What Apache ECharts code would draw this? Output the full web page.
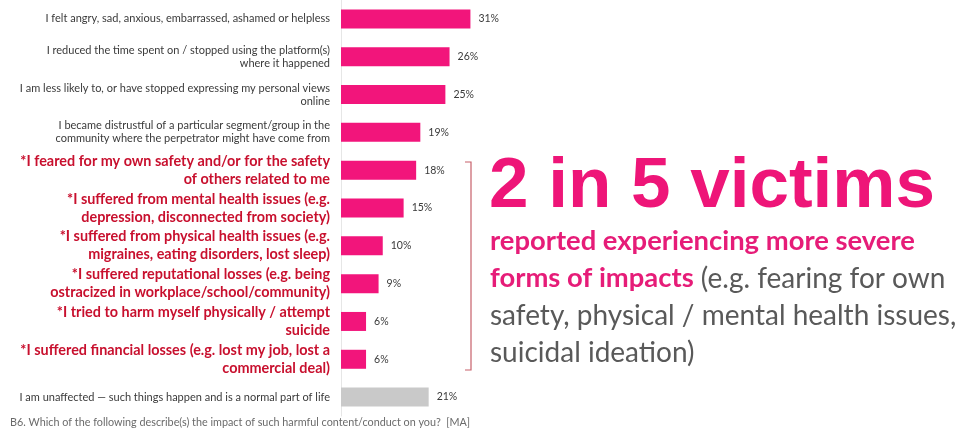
<!DOCTYPE html>
<html>
<head>
<meta charset="utf-8">
<script src="https://cdn.jsdelivr.net/npm/echarts@6/dist/echarts.min.js"></script>
<style>
  html, body { margin: 0; padding: 0; background: #fff; }
  #chart { width: 969px; height: 443px; }
</style>
</head>
<body>
<div id="chart"></div>
<script>
// Impact statements, top to bottom
const categories = [
  'I felt angry, sad, anxious, embarrassed, ashamed or helpless',
  'I reduced the time spent on / stopped using the platform(s)\nwhere it happened',
  'I am less likely to, or have stopped expressing my personal views\nonline',
  'I became distrustful of a particular segment/group in the\ncommunity where the perpetrator might have come from',
  '*I feared for my own safety and/or for the safety\nof others related to me',
  '*I suffered from mental health issues (e.g.\ndepression, disconnected from society)',
  '*I suffered from physical health issues (e.g.\nmigraines, eating disorders, lost sleep)',
  '*I suffered reputational losses (e.g. being\nostracized in workplace/school/community)',
  '*I tried to harm myself physically / attempt\nsuicide',
  '*I suffered financial losses (e.g. lost my job, lost a\ncommercial deal)',
  'I am unaffected \u2014 such things happen and is a normal part of life'
];
// Share of victims reporting each impact (%)
const values = [31, 26, 25, 19, 18, 15, 10, 9, 6, 6, 21];
// Which statements count as severe impacts
const severe = [false, false, false, false, true, true, true, true, true, true, false];
// The last statement is the "unaffected" response
const unaffected = [false, false, false, false, false, false, false, false, false, false, true];

const PINK = '#F2157B';
const GREY_BAR = '#C9C9C9';

const chart = echarts.init(document.getElementById('chart'));

chart.setOption({
  animation: false,
  backgroundColor: '#ffffff',
  grid: { left: 341, top: 0, width: 167, height: 416, containLabel: false },
  xAxis: {
    type: 'value', min: 0, max: 40,
    show: false
  },
  yAxis: {
    type: 'category',
    inverse: true,
    data: categories,
    axisTick: { show: false },
    axisLine: { show: true, lineStyle: { color: '#e6e6e6', width: 1 } },
    axisLabel: {
      margin: 11,
      align: 'right',
      formatter: function (v, i) {
        return severe[i] ? '{s|' + v + '}' : '{n|' + v + '}';
      },
      rich: {
        n: { fontFamily: 'Lato', fontSize: 11, lineHeight: 13, color: '#3a3a3a', align: 'right' },
        s: { fontFamily: 'Lato', fontSize: 14.4, fontWeight: 'bold', lineHeight: 18, color: '#C8102E', align: 'right' }
      }
    }
  },
  series: [{
    type: 'bar',
    barWidth: 19,
    data: values.map(function (v, i) {
      return { value: v, itemStyle: { color: unaffected[i] ? GREY_BAR : PINK } };
    }),
    label: {
      show: true,
      position: 'right',
      distance: 8,
      formatter: '{c}%',
      fontFamily: 'Lato',
      fontSize: 10.5,
      color: '#3a3a3a'
    }
  }],
  graphic: [
    // bracket grouping the severe impacts
    {
      type: 'polyline',
      shape: { points: [[465, 162], [471, 162], [471, 370], [465, 370]] },
      style: { stroke: '#C7606A', lineWidth: 1.2, fill: null }
    },
    {
      type: 'text',
      left: 489, top: 152,
      style: {
        text: '2 in 5 victims',
        fontFamily: 'Liberation Sans',
        fontWeight: 'bold',
        fontSize: 71,
        fill: '#EE1578'
      }
    },
    {
      type: 'text',
      left: 490, top: 228,
      style: {
        text: '{b|reported experiencing more severe}\n{b|forms of impacts}{g| (e.g. fearing for own}\n{g|safety, physical / mental health issues,}\n{g|suicidal ideation)}',
        rich: {
          b: { fontFamily: 'Lato', fontWeight: 'bold', fontSize: 27.4, lineHeight: 37, fill: '#E61C78' },
          g: { fontFamily: 'Lato', fontSize: 28, lineHeight: 37, fill: '#595959' }
        }
      }
    },
    {
      type: 'text',
      left: 10, top: 417,
      style: {
        text: 'B6. Which of the following describe(s) the impact of such harmful content/conduct on you?  [MA]',
        fontFamily: 'Lato',
        fontSize: 10.8,
        fill: '#6a6a6a'
      }
    }
  ]
});
</script>
</body>
</html>
